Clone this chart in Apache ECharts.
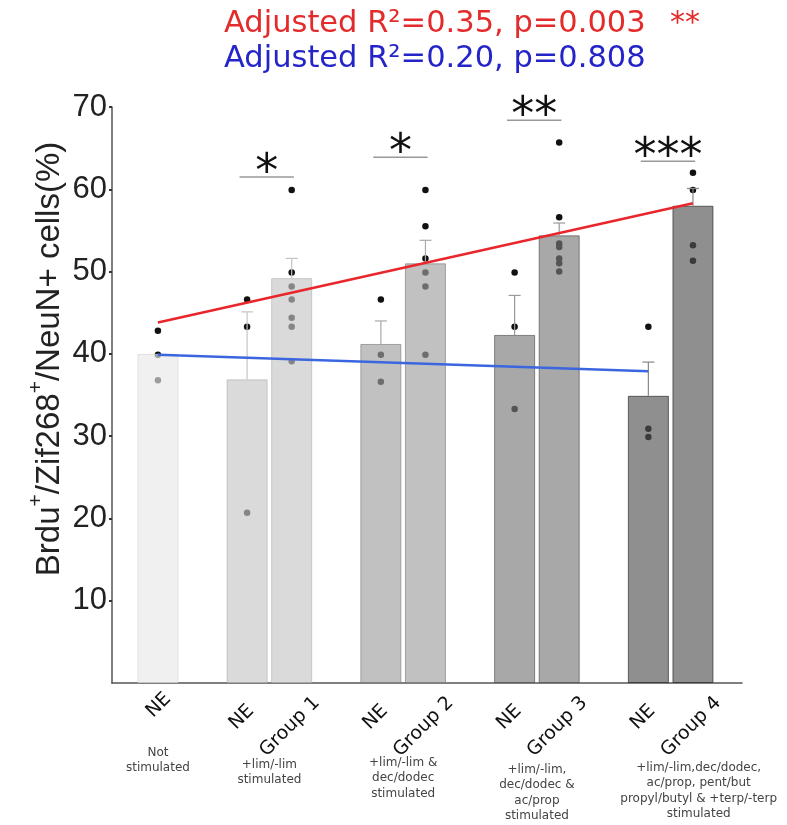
<!DOCTYPE html>
<html><head><meta charset="utf-8">
<script src="https://cdn.jsdelivr.net/npm/echarts@6/dist/echarts.min.js"></script>
<style>html,body{margin:0;padding:0;background:#fff}#c{width:787px;height:825px}</style>
</head><body><div id="c"></div>
<script>
// ---------------- data ----------------
const positions = [0, 2, 3, 5, 6, 8, 9, 11, 12];
const barLabels = ['NE', 'NE', 'Group 1', 'NE', 'Group 2', 'NE', 'Group 3', 'NE', 'Group 4'];
const groupOf = [0, 1, 1, 2, 2, 3, 3, 4, 4];
const means = [40.0, 36.9, 49.2, 41.2, 51.0, 42.3, 54.4, 34.9, 58.0];
const errTop = [null, 45.1, 51.6, 44.0, 53.8, 47.1, 55.9, 39.0, 60.1];
const points = [
  [42.8, 39.9, 36.8],
  [46.6, 43.3, 20.7],
  [59.9, 49.9, 48.2, 46.6, 44.4, 43.3, 39.1],
  [46.6, 39.9, 36.6],
  [59.9, 55.5, 51.6, 49.9, 48.2, 39.9],
  [49.9, 43.3, 33.3],
  [65.7, 56.6, 53.4, 53.0, 51.6, 51.0, 50.0],
  [43.3, 30.9, 29.9],
  [62.0, 59.9, 53.2, 51.3]
];
const groupDescriptions = [
  'Not\nstimulated',
  '+lim/-lim\nstimulated',
  '+lim/-lim &\ndec/dodec\nstimulated',
  '+lim/-lim,\ndec/dodec &\nac/prop\nstimulated',
  '+lim/-lim,dec/dodec,\nac/prop, pent/but\npropyl/butyl & +terp/-terp\nstimulated'
];
const sigPairs = [[2, 3], [5, 6], [8, 9], [11, 12]];
const sigY = [61.5, 63.9, 68.4, 63.4];
const sigText = ['*', '*', '**', '***'];
const redFitX = [0, 12];
const redFitY = [43.8, 58.3];
const blueFitX = [0, 11];
const blueFitY = [39.9, 37.9];
const yTicks = [10, 20, 30, 40, 50, 60, 70];
const titleRed = 'Adjusted R²=0.35, p=0.003';
const titleRedSig = '**';
const titleBlue = 'Adjusted R²=0.20, p=0.808';
const yAxisTitle = ['Brdu', '+', '/Zif268', '+', '/NeuN+ cells(%)'];

// ---------------- style ----------------
const fillCols = ['#e8e8e8', '#c6c6c6', '#a0a0a0', '#797979', '#535353'];
const borderCols = ['#d5d5d5', '#b2b2b2', '#7c7c7c', '#4e4e4e', '#232323'];
const errCols = ['#cccccc', '#c4c4c4', '#aaaaaa', '#999999', '#888888'];

const chart = echarts.init(document.getElementById('c'), null, {renderer: 'canvas'});

const barData = positions.map((x, i) => ({
  value: [x, means[i]],
  itemStyle: {color: fillCols[groupOf[i]], borderColor: borderCols[groupOf[i]]}
}));
const dotData = [];
points.forEach((arr, i) => arr.forEach(v => dotData.push([positions[i], v])));
const errData = [];
positions.forEach((x, i) => { if (errTop[i] != null) errData.push([x, means[i], errTop[i], groupOf[i]]); });
const sigData = sigPairs.map((p, i) => [p[0], p[1], sigY[i], i]);

const option = {
  animation: false,
  backgroundColor: '#fff',
  grid: {left: 112, right: 45, top: 107, bottom: 142, containLabel: false},
  xAxis: {
    type: 'value', min: -1.03, max: 13.1,
    axisLine: {show: true, onZero: false, lineStyle: {color: '#555', width: 1.5}},
    axisTick: {show: false}, axisLabel: {show: false}, splitLine: {show: false}
  },
  yAxis: {
    type: 'value', min: 0, max: 70, interval: 10,
    axisLine: {show: true, onZero: false, lineStyle: {color: '#555', width: 1.5}},
    axisTick: {show: true, length: 3, customValues: yTicks, lineStyle: {color: '#333', width: 2}},
    axisLabel: {
      margin: 5, fontSize: 31, fontFamily: 'Liberation Sans', color: '#222',
      customValues: yTicks,
      formatter: v => yTicks.indexOf(v) >= 0 ? String(v) : ''
    },
    splitLine: {show: false}
  },
  series: [
    {
      type: 'scatter', data: dotData, symbolSize: 6.5, z: 1,
      itemStyle: {color: '#111', opacity: 1}
    },
    {
      type: 'bar', data: barData, barWidth: 41, z: 2,
      itemStyle: {opacity: 0.65, borderWidth: 1}
    },
    {
      type: 'custom', data: errData, z: 3,
      renderItem: (params, api) => {
        const x = api.value(0), lo = api.value(1), hi = api.value(2), g = api.value(3);
        const p1 = api.coord([x, lo]), p2 = api.coord([x, hi]);
        const col = errCols[g];
        return {type: 'group', children: [
          {type: 'line', shape: {x1: p1[0], y1: p1[1], x2: p2[0], y2: p2[1]}, style: {stroke: col, lineWidth: 1.2}},
          {type: 'line', shape: {x1: p2[0] - 6, y1: p2[1], x2: p2[0] + 6, y2: p2[1]}, style: {stroke: col, lineWidth: 1.2}}
        ]};
      }
    },
    {
      type: 'line', data: redFitX.map((x, i) => [x, redFitY[i]]), showSymbol: false, z: 4,
      lineStyle: {color: '#e8262b', width: 2.5}
    },
    {
      type: 'line', data: blueFitX.map((x, i) => [x, blueFitY[i]]), showSymbol: false, z: 4,
      lineStyle: {color: '#3b66e0', width: 2.5}
    },
    {
      type: 'custom', data: sigData, z: 5,
      renderItem: (params, api) => {
        const a = api.value(0), b = api.value(1), y = api.value(2), k = api.value(3);
        const p1 = api.coord([a - 0.17, y]), p2 = api.coord([b + 0.05, y]);
        return {type: 'group', children: [
          {type: 'line', shape: {x1: p1[0], y1: p1[1], x2: p2[0], y2: p2[1]}, style: {stroke: '#999', lineWidth: 1.5}},
          {type: 'text', x: (p1[0] + p2[0]) / 2, y: p1[1] - 3,
           style: {text: sigText[k], fontSize: 46, fontFamily: 'DejaVu Sans', fill: '#111', align: 'center', verticalAlign: 'middle'}}
        ]};
      }
    }
  ]
};
chart.setOption(option);

// ---------------- text placed through the axes ----------------
const graphics = [];
const px = x => chart.convertToPixel({gridIndex: 0}, [x, 0]);
positions.forEach((x, i) => {
  const p = px(x);
  const isGroup = barLabels[i] !== 'NE';
  const dx = i === 0 ? 10 : (isGroup ? 25 : 4);
  const ay = i === 0 ? p[1] + 13 : (isGroup ? p[1] + 17 : p[1] + 25);
  graphics.push({
    type: 'text', x: p[0] + dx, y: ay, rotation: Math.PI / 4,
    style: {text: barLabels[i], fontSize: 19, fontFamily: 'DejaVu Sans', fill: '#111', align: 'right', verticalAlign: 'middle'}
  });
});
const descDx = [0, 0, 0, 0, 28];
const descTop = [745, 757, 755, 762, 760];
groupDescriptions.forEach((t, g) => {
  const idx = positions.filter((x, i) => groupOf[i] === g);
  const cx = (px(idx[0])[0] + px(idx[idx.length - 1])[0]) / 2 + descDx[g];
  graphics.push({
    type: 'text', x: cx, y: descTop[g],
    style: {text: t, fontSize: 12, fontFamily: 'DejaVu Sans', fill: '#444', align: 'center', verticalAlign: 'top', lineHeight: 15.5}
  });
});
graphics.push({
  type: 'text', x: 224, y: 24,
  style: {text: titleRed, fontSize: 30.5, fontFamily: 'DejaVu Sans', fill: '#e32b2b', align: 'left', verticalAlign: 'middle'}
});
graphics.push({
  type: 'text', x: 670, y: 24,
  style: {text: titleRedSig, fontSize: 30, fontFamily: 'DejaVu Sans', fill: '#e32b2b', align: 'left', verticalAlign: 'middle'}
});
graphics.push({
  type: 'text', x: 224, y: 59,
  style: {text: titleBlue, fontSize: 30.5, fontFamily: 'DejaVu Sans', fill: '#2424c8', align: 'left', verticalAlign: 'middle'}
});
graphics.push({
  type: 'text', x: 46, y: 359, rotation: Math.PI / 2,
  style: {
    text: yAxisTitle.map((s, i) => (i % 2 === 1 ? '{s|' : '{m|') + s + '}').join(''),
    align: 'center', verticalAlign: 'middle',
    rich: {
      m: {fontSize: 33, fontFamily: 'Liberation Sans', fill: '#222', verticalAlign: 'bottom', lineHeight: 40},
      s: {fontSize: 21, fontFamily: 'Liberation Sans', fill: '#222', verticalAlign: 'top', lineHeight: 40}
    }
  }
});
chart.setOption({graphic: graphics});
</script>
</body></html>
